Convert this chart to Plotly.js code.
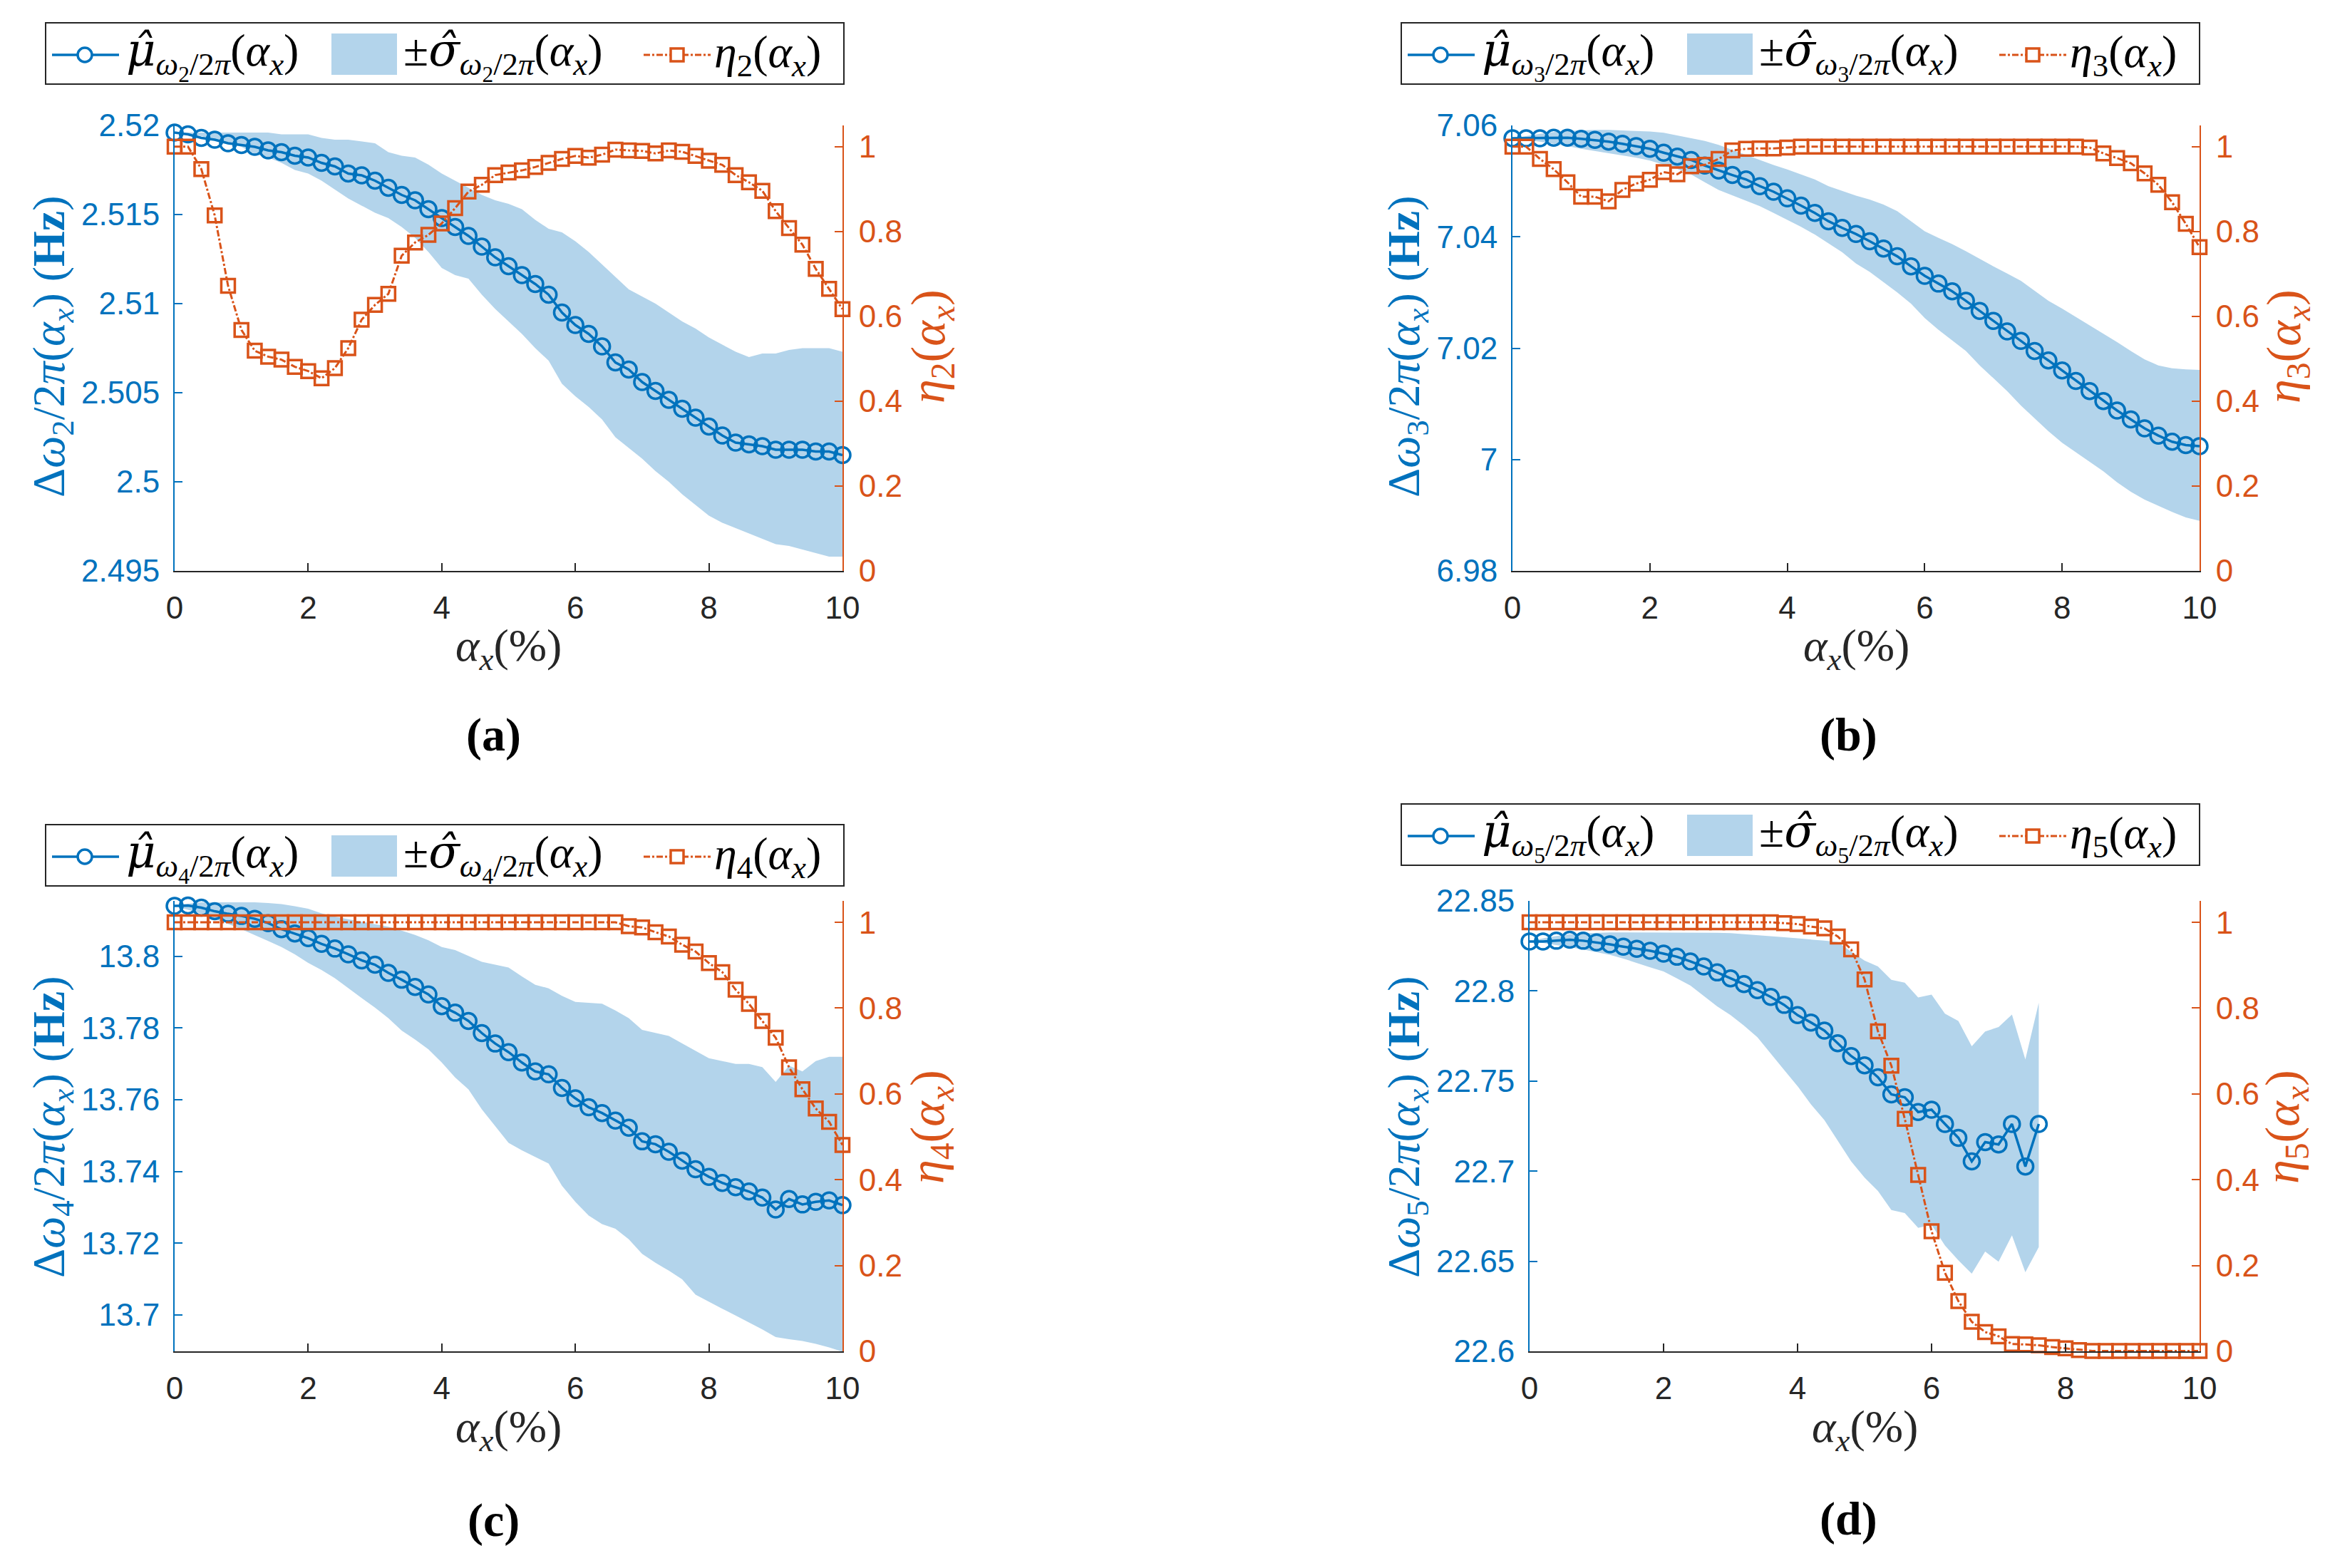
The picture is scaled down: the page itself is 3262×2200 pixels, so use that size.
<!DOCTYPE html>
<html><head><meta charset="utf-8">
<script src="https://cdn.plot.ly/plotly-3.0.1.min.js"></script>
<style>html,body{margin:0;padding:0;background:#fff}</style>
</head><body>
<div id="chart" style="width:3262px;height:2200px"></div>
<script>
// ---------------- data ----------------
const alpha = [0,0.2,0.4,0.6,0.8,1,1.2,1.4,1.6,1.8,2,2.2,2.4,2.6,2.8,3,3.2,3.4,3.6,3.8,4,4.2,4.4,4.6,4.8,5,5.2,5.4,5.6,5.8,6,6.2,6.4,6.6,6.8,7,7.2,7.4,7.6,7.8,8,8.2,8.4,8.6,8.8,9,9.2,9.4,9.6,9.8,10];
const alpha5 = [0,0.2,0.4,0.6,0.8,1,1.2,1.4,1.6,1.8,2,2.2,2.4,2.6,2.8,3,3.2,3.4,3.6,3.8,4,4.2,4.4,4.6,4.8,5,5.2,5.4,5.6,5.8,6,6.2,6.4,6.6,6.8,7,7.2,7.4,7.6];

// (a) mode 2
const mu2 = [2.5196,2.5195,2.5193,2.5192,2.5190,2.5189,2.5188,2.5186,2.5185,2.5183,2.5182,2.5179,2.5177,2.5173,2.5172,2.5169,2.5165,2.5161,2.5158,2.5153,2.5148,2.5143,2.5138,2.5132,2.5126,2.5121,2.5116,2.5111,2.5105,2.5095,2.5088,2.5083,2.5076,2.5067,2.5063,2.5056,2.5051,2.5046,2.5041,2.5036,2.5031,2.5026,2.5022,2.5021,2.5020,2.5018,2.5018,2.5018,2.5017,2.5017,2.5015];
const hi2 = [2.5196,2.5196,2.5196,2.5196,2.5196,2.5196,2.5196,2.5196,2.5195,2.5195,2.5195,2.5193,2.5192,2.5192,2.5191,2.5190,2.5185,2.5183,2.5182,2.5178,2.5173,2.5169,2.5165,2.5161,2.5158,2.5156,2.5153,2.5147,2.5142,2.5140,2.5135,2.5129,2.5122,2.5115,2.5108,2.5104,2.5100,2.5095,2.5090,2.5086,2.5081,2.5077,2.5073,2.5070,2.5072,2.5072,2.5074,2.5075,2.5075,2.5075,2.5073];
const lo2 = [2.5196,2.5195,2.5194,2.5192,2.5190,2.5188,2.5184,2.5182,2.5179,2.5175,2.5173,2.5169,2.5164,2.5159,2.5155,2.5151,2.5148,2.5143,2.5137,2.5129,2.5120,2.5116,2.5114,2.5105,2.5097,2.5090,2.5083,2.5075,2.5068,2.5055,2.5048,2.5042,2.5035,2.5025,2.5019,2.5013,2.5006,2.5000,2.4993,2.4987,2.4981,2.4977,2.4974,2.4971,2.4968,2.4965,2.4964,2.4962,2.4960,2.4958,2.4958];
const eta2 = [1.0,1.0,0.947,0.838,0.672,0.568,0.519,0.505,0.498,0.481,0.471,0.454,0.478,0.525,0.592,0.627,0.653,0.743,0.774,0.792,0.819,0.855,0.894,0.910,0.933,0.939,0.944,0.952,0.962,0.971,0.978,0.974,0.981,0.993,0.991,0.990,0.984,0.991,0.988,0.978,0.967,0.957,0.933,0.916,0.896,0.848,0.808,0.769,0.712,0.665,0.617];

// (b) mode 3
const mu3 = [7.0577,7.0577,7.0577,7.0578,7.0578,7.0576,7.0574,7.0571,7.0567,7.0563,7.0558,7.0551,7.0544,7.0538,7.0528,7.0519,7.0511,7.0503,7.0491,7.0481,7.0469,7.0456,7.0443,7.0428,7.0416,7.0405,7.0392,7.0379,7.0365,7.0347,7.0330,7.0316,7.0302,7.0285,7.0267,7.0249,7.0230,7.0213,7.0195,7.0178,7.0160,7.0141,7.0123,7.0105,7.0088,7.0072,7.0056,7.0043,7.0032,7.0026,7.0024];
const hi3 = [7.0577,7.0581,7.0585,7.0588,7.0590,7.0591,7.0592,7.0592,7.0591,7.0590,7.0589,7.0587,7.0582,7.0577,7.0572,7.0565,7.0556,7.0546,7.0537,7.0529,7.0521,7.0512,7.0503,7.0491,7.0482,7.0474,7.0467,7.0458,7.0446,7.0428,7.0410,7.0398,7.0387,7.0374,7.0360,7.0347,7.0334,7.0321,7.0303,7.0285,7.0271,7.0256,7.0241,7.0227,7.0211,7.0195,7.0180,7.0169,7.0164,7.0162,7.0161];
const lo3 = [7.0577,7.0574,7.0571,7.0567,7.0563,7.0558,7.0554,7.0550,7.0546,7.0542,7.0537,7.0530,7.0522,7.0512,7.0498,7.0484,7.0474,7.0465,7.0455,7.0443,7.0431,7.0418,7.0404,7.0388,7.0372,7.0352,7.0337,7.0319,7.0300,7.0280,7.0254,7.0233,7.0214,7.0195,7.0169,7.0146,7.0123,7.0097,7.0074,7.0051,7.0030,7.0012,6.9996,6.9979,6.9959,6.9942,6.9928,6.9917,6.9906,6.9896,6.9890];
const eta3 = [1,1,0.971,0.947,0.916,0.882,0.882,0.871,0.898,0.913,0.922,0.940,0.935,0.954,0.957,0.971,0.991,0.995,0.996,0.996,0.998,1,1,1,1,1,1,1,1,1,1,1,1,1,1,1,1,1,1,1,1,1,0.998,0.984,0.973,0.961,0.937,0.910,0.869,0.818,0.763];

// (c) mode 4
const mu4 = [13.8141,13.8142,13.8136,13.8126,13.8119,13.8113,13.8105,13.8093,13.8076,13.8064,13.8051,13.8035,13.8022,13.8006,13.7989,13.7977,13.7954,13.7935,13.7915,13.7894,13.7861,13.7843,13.7820,13.7786,13.7757,13.7733,13.7704,13.7679,13.7671,13.7633,13.7604,13.7579,13.7563,13.7542,13.7522,13.7484,13.7476,13.7455,13.7430,13.7406,13.7385,13.7368,13.7356,13.7344,13.7327,13.7294,13.7323,13.7308,13.7315,13.7319,13.7306];
const hi4 = [13.8141,13.8147,13.8151,13.8151,13.8152,13.8152,13.8151,13.8149,13.8146,13.8140,13.8133,13.8120,13.8111,13.8104,13.8097,13.8091,13.8083,13.8072,13.8060,13.8045,13.8026,13.8018,13.8002,13.7985,13.7977,13.7969,13.7944,13.7921,13.7911,13.7890,13.7873,13.7871,13.7868,13.7849,13.7828,13.7795,13.7786,13.7778,13.7757,13.7737,13.7716,13.7708,13.7700,13.7700,13.7691,13.7650,13.7695,13.7679,13.7708,13.7720,13.7720];
const lo4 = [13.8141,13.8130,13.8119,13.8105,13.8091,13.8076,13.8060,13.8043,13.8026,13.8006,13.7982,13.7962,13.7939,13.7911,13.7884,13.7857,13.7828,13.7793,13.7768,13.7741,13.7704,13.7662,13.7629,13.7573,13.7526,13.7480,13.7459,13.7440,13.7422,13.7360,13.7315,13.7277,13.7253,13.7240,13.7211,13.7170,13.7145,13.7123,13.7099,13.7056,13.7037,13.7017,13.6998,13.6979,13.6959,13.6938,13.6932,13.6927,13.6919,13.6909,13.6897];
const eta4 = [1,1,1,1,1,1,1,1,1,1,1,1,1,1,1,1,1,1,1,1,1,1,1,1,1,1,1,1,1,1,1,1,1,1,0.991,0.988,0.977,0.967,0.948,0.932,0.905,0.884,0.843,0.810,0.770,0.731,0.662,0.611,0.566,0.535,0.481];

// (d) mode 5 (mean / band only up to 7.6 %)
const mu5 = [22.8275,22.8275,22.8279,22.8284,22.8279,22.8270,22.8259,22.8246,22.8234,22.8223,22.8207,22.8190,22.8164,22.8136,22.8103,22.8070,22.8038,22.8005,22.7967,22.7923,22.7866,22.7825,22.7780,22.7710,22.7639,22.7587,22.7521,22.7426,22.7410,22.7328,22.7341,22.7262,22.7185,22.7054,22.7161,22.7148,22.7262,22.7026,22.7262];
const hi5 = [22.8275,22.8292,22.8305,22.8315,22.8320,22.8323,22.8325,22.8325,22.8325,22.8325,22.8325,22.8325,22.8325,22.8325,22.8323,22.8321,22.8316,22.8308,22.8303,22.8298,22.8292,22.8284,22.8279,22.8272,22.8218,22.8169,22.8136,22.8062,22.8046,22.7964,22.7980,22.7874,22.7833,22.7693,22.7775,22.7800,22.7869,22.7620,22.7934];
const lo5 = [22.8275,22.8267,22.8256,22.8243,22.8230,22.8216,22.8200,22.8180,22.8157,22.8131,22.8108,22.8070,22.8030,22.7972,22.7915,22.7866,22.7808,22.7743,22.7652,22.7562,22.7472,22.7371,22.7284,22.7169,22.7054,22.6964,22.6890,22.6784,22.6767,22.6685,22.6702,22.6587,22.6505,22.6431,22.6554,22.6497,22.6644,22.6439,22.6579];
const eta5 = [1,1,1,1,1,1,1,1,1,1,1,1,1,1,1,1,1,1,1,0.998,0.996,0.990,0.986,0.967,0.937,0.867,0.746,0.666,0.542,0.411,0.280,0.183,0.117,0.069,0.045,0.035,0.017,0.016,0.014,0.010,0.007,0.003,0.001,0.001,0.001,0.001,0.001,0.001,0.001,0.001,0.001];

// tick labels
const xTicks = [0,2,4,6,8,10];
const xTickText = ['0','2','4','6','8','10'];
const etaTicks = [0,0.2,0.4,0.6,0.8,1];
const etaTickText = ['0','0.2','0.4','0.6','0.8','1'];
const yTicks2 = [2.495,2.5,2.505,2.51,2.515,2.52];
const yTickText2 = ['2.495','2.5','2.505','2.51','2.515','2.52'];
const yTicks3 = [6.98,7,7.02,7.04,7.06];
const yTickText3 = ['6.98','7','7.02','7.04','7.06'];
const yTicks4 = [13.7,13.72,13.74,13.76,13.78,13.8];
const yTickText4 = ['13.7','13.72','13.74','13.76','13.78','13.8'];
const yTicks5 = [22.6,22.65,22.7,22.75,22.8,22.85];
const yTickText5 = ['22.6','22.65','22.7','22.75','22.8','22.85'];
const captions = ['(a)','(b)','(c)','(d)'];
const modes = [2,3,4,5];

// ---------------- styling / layout ----------------
const W = 3262, H = 2200;
const PX = v => v / W;
const PY = v => 1 - v / H;
const BLUE = '#0072BD', ORANGE = '#D95319', FILL = '#B3D4EB', AX = '#262626';
const SANS = 'Liberation Sans, Arial, sans-serif';
const SERIF = 'Liberation Serif, Times New Roman, serif';
const HAT = ch => '<span style="font-family:DejaVu Serif"><i>' + ch + '\u0302</i></span>';

const panels = [
  {xm: alpha,  mu: mu2, hi: hi2, lo: lo2, eta: eta2, L: 245,  R: 1182, T: 176,  B: 801,  yr: [2.495, 2.52],      yt: yTicks2, ytt: yTickText2,
   legL: 64,   legT: 32,   ylx: 73,   yrx: 1306, ty: 486,  xtY: 910,  capX: 692,  capY: 1031},
  {xm: alpha,  mu: mu3, hi: hi3, lo: lo3, eta: eta3, L: 2122, R: 3086, T: 176,  B: 801,  yr: [6.98, 7.06],       yt: yTicks3, ytt: yTickText3,
   legL: 1966, legT: 32,   ylx: 1974, yrx: 3208, ty: 486,  xtY: 910,  capX: 2593, capY: 1031},
  {xm: alpha,  mu: mu4, hi: hi4, lo: lo4, eta: eta4, L: 245,  R: 1182, T: 1264, B: 1896, yr: [13.6898, 13.8155], yt: yTicks4, ytt: yTickText4,
   legL: 64,   legT: 1157, ylx: 73,   yrx: 1305, ty: 1581, xtY: 2006, capX: 692,  capY: 2133},
  {xm: alpha5, mu: mu5, hi: hi5, lo: lo5, eta: eta5, L: 2146, R: 3086, T: 1264, B: 1896, yr: [22.6, 22.85],      yt: yTicks5, ytt: yTickText5,
   legL: 1966, legT: 1128, ylx: 1974, yrx: 3206, ty: 1581, xtY: 2006, capX: 2593, capY: 2131}
];

const traces = [];
const layout = {
  width: W, height: H,
  margin: {l: 0, r: 0, t: 0, b: 0},
  paper_bgcolor: '#ffffff', plot_bgcolor: 'rgba(0,0,0,0)',
  showlegend: false,
  annotations: [], shapes: []
};

panels.forEach((p, i) => {
  const k = i + 1;
  const m = modes[i];
  const xa = k === 1 ? 'x' : 'x' + k;
  const yl = (2 * k - 1) === 1 ? 'y' : 'y' + (2 * k - 1);
  const yr = 'y' + (2 * k);
  const xKey = k === 1 ? 'xaxis' : 'xaxis' + k;
  const ylKey = (2 * k - 1) === 1 ? 'yaxis' : 'yaxis' + (2 * k - 1);
  const yrKey = 'yaxis' + (2 * k);

  // band (mean +/- sigma)
  traces.push({
    x: p.xm.concat(p.xm.slice().reverse()),
    y: p.hi.concat(p.lo.slice().reverse()),
    xaxis: xa, yaxis: yl, type: 'scatter', mode: 'lines',
    fill: 'toself', fillcolor: FILL,
    line: {width: 0, color: 'rgba(0,0,0,0)'}, hoverinfo: 'skip'
  });
  // mean
  traces.push({
    x: p.xm, y: p.mu, xaxis: xa, yaxis: yl, type: 'scatter', mode: 'lines+markers',
    line: {color: BLUE, width: 3.5},
    marker: {symbol: 'circle-open', size: 22, color: BLUE, line: {width: 3.5, color: BLUE}},
    cliponaxis: false
  });
  // eta
  traces.push({
    x: alpha, y: p.eta, xaxis: xa, yaxis: yr, type: 'scatter', mode: 'lines+markers',
    line: {color: ORANGE, width: 3, dash: 'dashdot'},
    marker: {symbol: 'square-open', size: 19, color: ORANGE, line: {width: 3.5, color: ORANGE}},
    cliponaxis: false
  });

  const tickfont = c => ({family: SANS, size: 44, color: c});
  layout[xKey] = {
    domain: [PX(p.L), PX(p.R)], anchor: yl, range: [0, 10],
    tickmode: 'array', tickvals: xTicks, ticktext: xTickText,
    ticks: 'inside', ticklen: 11, tickwidth: 2, tickcolor: AX,
    showline: true, linecolor: AX, linewidth: 2, mirror: false,
    showgrid: false, zeroline: false, tickfont: tickfont(AX), ticklabelstandoff: 12
  };
  layout[ylKey] = {
    domain: [PY(p.B), PY(p.T)], anchor: xa, range: p.yr,
    tickmode: 'array', tickvals: p.yt, ticktext: p.ytt,
    ticks: 'inside', ticklen: 11, tickwidth: 2, tickcolor: BLUE,
    showline: true, linecolor: BLUE, linewidth: 2,
    showgrid: false, zeroline: false, tickfont: tickfont(BLUE), ticklabelstandoff: 10
  };
  layout[yrKey] = {
    overlaying: yl, side: 'right', anchor: xa, range: [0, 1.05],
    tickmode: 'array', tickvals: etaTicks, ticktext: etaTickText,
    ticks: 'inside', ticklen: 11, tickwidth: 2, tickcolor: ORANGE,
    showline: true, linecolor: ORANGE, linewidth: 2,
    showgrid: false, zeroline: false, tickfont: tickfont(ORANGE), ticklabelstandoff: 12
  };

  const ax = '(<i>α</i><sub><i>x</i></sub>)';
  const sub = '<sub><i>ω</i><sub>' + m + '</sub>/2<i>π</i></sub>';
  // axis titles
  layout.annotations.push({
    xref: 'paper', yref: 'paper', x: PX(p.ylx), y: PY(p.ty), xanchor: 'center', yanchor: 'middle',
    textangle: -90, showarrow: false,
    text: 'Δ<i>ω</i><sub>' + m + '</sub>/2<i>π</i>' + ax + ' (<b>Hz</b>)',
    font: {family: SERIF, size: 64, color: BLUE}
  });
  layout.annotations.push({
    xref: 'paper', yref: 'paper', x: PX(p.yrx), y: PY(p.ty), xanchor: 'center', yanchor: 'middle',
    textangle: -90, showarrow: false,
    text: '<i>η</i><sub>' + m + '</sub>' + ax,
    font: {family: SERIF, size: 68, color: ORANGE}
  });
  layout.annotations.push({
    xref: 'paper', yref: 'paper', x: PX((p.L + p.R) / 2), y: PY(p.xtY), xanchor: 'center', yanchor: 'middle',
    showarrow: false, text: '<i>α</i><sub><i>x</i></sub>(%)',
    font: {family: SERIF, size: 64, color: AX}
  });
  layout.annotations.push({
    xref: 'paper', yref: 'paper', x: PX(p.capX), y: PY(p.capY), xanchor: 'center', yanchor: 'middle',
    showarrow: false, text: '<b>' + captions[i] + '</b>',
    font: {family: SERIF, size: 66, color: '#000'}
  });

  // legend (manual, boxed)
  const L0 = p.legL, T0 = p.legT, cy = T0 + 45;
  const rectP = (x0, y0, x1, y1) => ({x0: PX(x0), x1: PX(x1), y0: PY(y1), y1: PY(y0)});
  layout.shapes.push(Object.assign({type: 'rect', xref: 'paper', yref: 'paper',
    line: {color: '#262626', width: 2}, fillcolor: '#ffffff', layer: 'above'}, rectP(L0, T0, L0 + 1120, T0 + 86)));
  layout.shapes.push({type: 'line', xref: 'paper', yref: 'paper', x0: PX(L0 + 9), x1: PX(L0 + 103), y0: PY(cy), y1: PY(cy),
    line: {color: BLUE, width: 3.5}, layer: 'above'});
  layout.shapes.push(Object.assign({type: 'circle', xref: 'paper', yref: 'paper',
    line: {color: BLUE, width: 3.5}, fillcolor: '#ffffff', layer: 'above'}, rectP(L0 + 45, cy - 10, L0 + 65, cy + 10)));
  layout.shapes.push(Object.assign({type: 'rect', xref: 'paper', yref: 'paper',
    line: {width: 0}, fillcolor: FILL, layer: 'above'}, rectP(L0 + 401, T0 + 15, L0 + 493, T0 + 73)));
  layout.shapes.push({type: 'line', xref: 'paper', yref: 'paper', x0: PX(L0 + 839), x1: PX(L0 + 933), y0: PY(cy), y1: PY(cy),
    line: {color: ORANGE, width: 3, dash: 'dashdot'}, layer: 'above'});
  layout.shapes.push(Object.assign({type: 'rect', xref: 'paper', yref: 'paper',
    line: {color: ORANGE, width: 3.5}, fillcolor: '#ffffff', layer: 'above'}, rectP(L0 + 877, cy - 9, L0 + 895, cy + 9)));
  const legFont = {family: SERIF, size: 64, color: '#000'};
  [[L0 + 111, HAT('μ') + sub + ax],
   [L0 + 500, '±' + HAT('σ') + sub + ax],
   [L0 + 936, '<i>η</i><sub>' + m + '</sub>' + ax]].forEach(([xx, txt]) => {
    layout.annotations.push({xref: 'paper', yref: 'paper', x: PX(xx), y: PY(cy), xanchor: 'left', yanchor: 'middle',
      showarrow: false, text: txt, font: legFont});
  });
});

Plotly.newPlot('chart', traces, layout, {staticPlot: true, displayModeBar: false});
</script>
</body></html>
